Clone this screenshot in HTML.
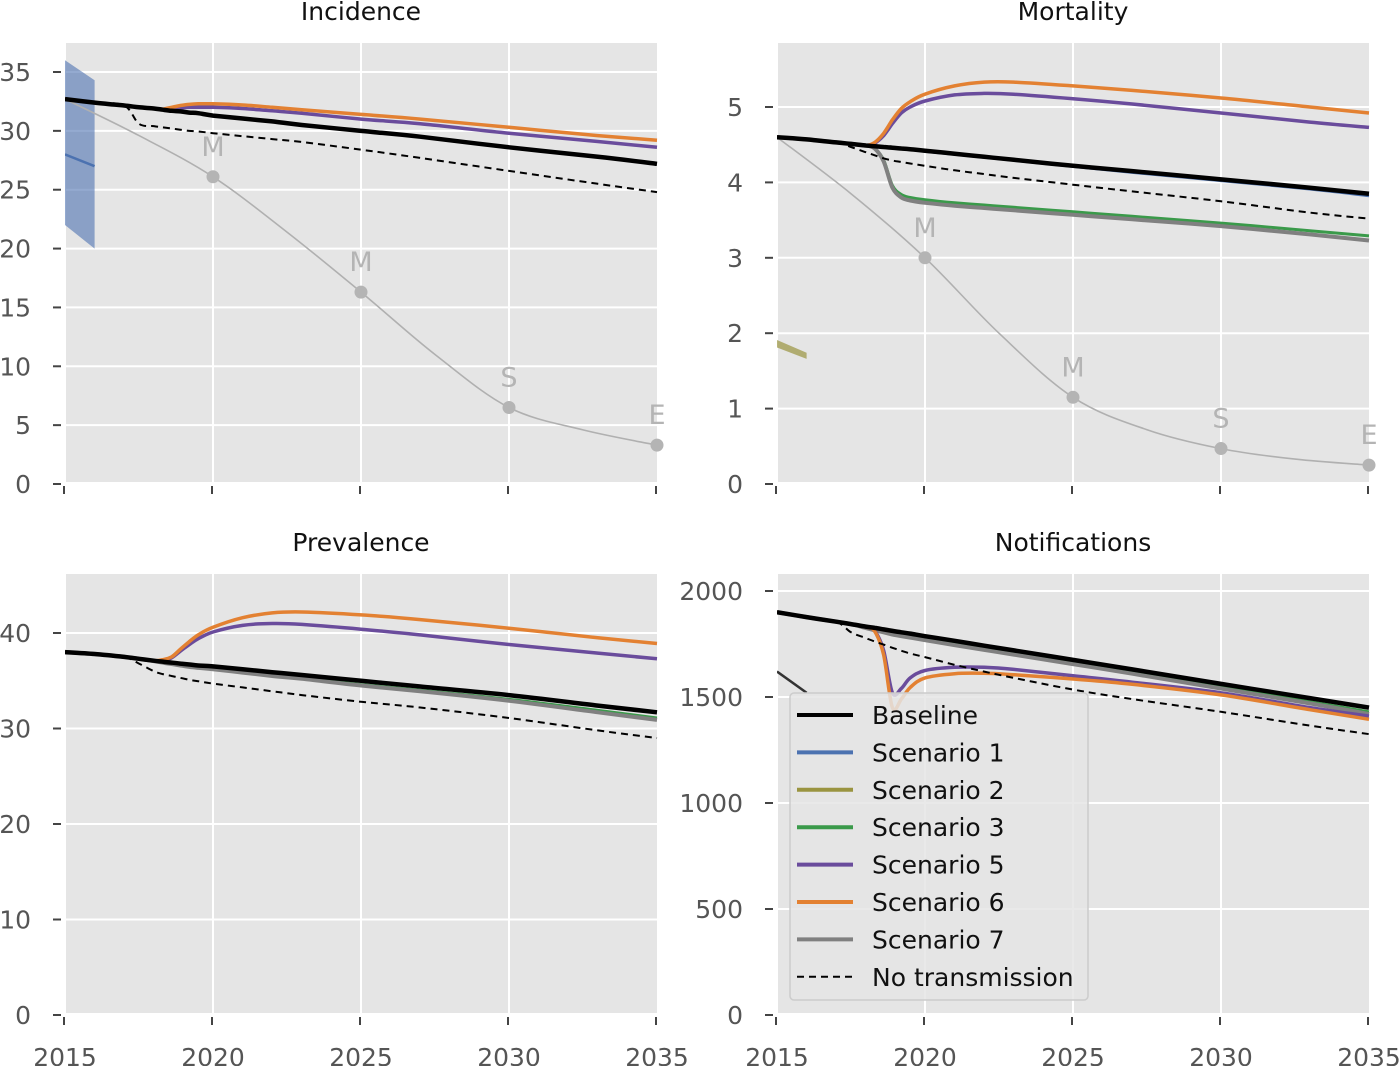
<!DOCTYPE html>
<html><head><meta charset="utf-8">
<style>
html,body{margin:0;padding:0;background:#fff;}
svg{display:block;font-family:"DejaVu Sans","Liberation Sans",sans-serif;}
</style></head>
<body>
<svg id="chart" width="1400" height="1066" viewBox="0 0 1400 1066" xmlns="http://www.w3.org/2000/svg"></svg>
<script>
// ---- shared data ----
const years = [2015,2016,2017,2017.5,2018,2018.3,2018.6,2018.9,2019.2,2019.5,2020,2021,2022,2023,2025,2027,2030,2033,2035];
const targetYears = [2015,2017.5,2020,2022.5,2025,2027.5,2030,2032.5,2035];
const markerYears = [2020,2025,2030,2035];
const markerLabels = ["M","M","S","E"];
const xTicks = [2015,2020,2025,2030,2035];

// Incidence
const incBaseline = [32.7,32.4,32.15,32.0,31.9,31.8,31.7,31.65,31.55,31.5,31.3,31.05,30.8,30.5,30.0,29.5,28.6,27.8,27.2];
const incS5 = [32.7,32.4,32.15,32.0,31.9,31.8,31.85,31.95,32.0,32.0,32.0,31.9,31.7,31.5,31.0,30.6,29.8,29.1,28.6];
const incS6 = [32.7,32.4,32.15,32.0,31.9,31.85,32.0,32.15,32.25,32.3,32.3,32.2,32.0,31.8,31.4,31.0,30.3,29.6,29.2];
const incNoTrans = [32.7,32.4,32.15,30.6,30.4,30.3,30.2,30.1,30.0,29.95,29.8,29.55,29.3,29.05,28.4,27.7,26.6,25.5,24.8];
const incTarget = [32.7,29.6,26.1,21.4,16.3,11.0,6.5,4.6,3.3];
const incMarkers = [26.1,16.3,6.5,3.3];
const incYTicks = [0,5,10,15,20,25,30,35];

// Mortality
const morBaseline = [4.6,4.57,4.53,4.51,4.49,4.48,4.47,4.46,4.45,4.44,4.42,4.38,4.34,4.3,4.22,4.15,4.04,3.93,3.85];
const morS1 = [4.6,4.57,4.53,4.51,4.49,4.48,4.47,4.46,4.45,4.44,4.41,4.37,4.33,4.29,4.21,4.13,4.02,3.91,3.82];
const morS3 = [4.6,4.57,4.53,4.51,4.49,4.45,4.3,3.96,3.84,3.8,3.77,3.73,3.7,3.67,3.61,3.55,3.46,3.36,3.29];
const morS5 = [4.6,4.57,4.53,4.51,4.49,4.52,4.62,4.78,4.92,5.0,5.08,5.16,5.18,5.17,5.11,5.04,4.92,4.8,4.73];
const morS6 = [4.6,4.57,4.53,4.51,4.49,4.53,4.65,4.83,4.98,5.07,5.17,5.28,5.33,5.33,5.28,5.22,5.12,5.0,4.92];
const morS7 = [4.6,4.57,4.53,4.51,4.49,4.45,4.28,3.93,3.8,3.76,3.73,3.69,3.66,3.63,3.57,3.51,3.42,3.31,3.23];
const morNoTrans = [4.6,4.57,4.53,4.47,4.4,4.36,4.32,4.29,4.27,4.25,4.22,4.16,4.11,4.06,3.97,3.88,3.75,3.6,3.52];
const morTarget = [4.6,3.85,3.0,2.0,1.15,0.72,0.47,0.33,0.25];
const morMarkers = [3.0,1.15,0.47,0.25];
const morYTicks = [0,1,2,3,4,5];

// Prevalence
const prvBaseline = [38.0,37.8,37.5,37.3,37.1,37.0,36.9,36.8,36.7,36.6,36.5,36.2,35.9,35.6,35.0,34.4,33.5,32.4,31.7];
const prvS3 = [38.0,37.8,37.5,37.3,37.07,36.93,36.8,36.65,36.5,36.4,36.27,35.93,35.6,35.3,34.6,34.0,33.05,31.9,31.1];
const prvS5 = [38.0,37.8,37.5,37.3,37.1,37.1,37.4,38.1,38.8,39.4,40.1,40.8,41.0,40.9,40.4,39.8,38.8,37.9,37.3];
const prvS6 = [38.0,37.8,37.5,37.3,37.1,37.2,37.5,38.3,39.1,39.8,40.6,41.6,42.1,42.2,41.9,41.4,40.5,39.5,38.9];
const prvS7 = [38.0,37.8,37.5,37.3,37.05,36.9,36.75,36.6,36.45,36.35,36.2,35.85,35.5,35.2,34.5,33.9,32.9,31.7,30.9];
const prvNoTrans = [38.0,37.8,37.5,36.8,36.0,35.7,35.5,35.3,35.1,34.95,34.7,34.3,33.9,33.5,32.8,32.2,31.1,29.8,29.0];
const prvYTicks = [0,10,20,30,40];

// Notifications
const notBaseline = [1900,1877,1855,1844,1832,1826,1819,1812,1805,1799,1787,1765,1742,1720,1675,1630,1562,1495,1450];
const notS3 = [1900,1877,1855,1844,1830,1820,1810,1800,1792,1785,1773,1750,1727,1705,1660,1615,1547,1478,1430];
const notS5 = [1900,1877,1855,1844,1830,1812,1720,1520,1540,1590,1625,1640,1640,1630,1600,1570,1520,1450,1410];
const notS6 = [1900,1877,1855,1844,1830,1810,1700,1450,1490,1545,1590,1610,1612,1605,1585,1560,1510,1440,1395];
const notS7 = [1900,1877,1855,1844,1825,1815,1805,1795,1787,1780,1768,1745,1722,1700,1655,1610,1540,1470,1420];
const notNoTrans = [1900,1877,1855,1805,1778,1762,1747,1732,1718,1705,1688,1652,1620,1590,1535,1490,1430,1365,1325];
const notYTicks = [0,500,1000,1500,2000];

const FS = 25;
const C = {base:"#000000", s1:"#4c72b0", s2:"#9a9440", s3:"#3a9a4a", s5:"#6a4c9c", s6:"#e38132", s7:"#808080"};
const svg = document.getElementById('chart');
const NS = "http://www.w3.org/2000/svg";
function el(tag, attrs, parent){
  const e = document.createElementNS(NS, tag);
  for (const k in attrs) e.setAttribute(k, attrs[k]);
  (parent||svg).appendChild(e);
  return e;
}
function smoothPath(pts){
  let d = "M"+pts[0][0].toFixed(1)+","+pts[0][1].toFixed(1);
  for (let i=0;i<pts.length-1;i++){
    const p0=pts[Math.max(0,i-1)], p1=pts[i], p2=pts[i+1], p3=pts[Math.min(pts.length-1,i+2)];
    const c1=[p1[0]+(p2[0]-p0[0])/6, p1[1]+(p2[1]-p0[1])/6];
    const c2=[p2[0]-(p3[0]-p1[0])/6, p2[1]-(p3[1]-p1[1])/6];
    d += " C"+c1[0].toFixed(1)+","+c1[1].toFixed(1)+" "+c2[0].toFixed(1)+","+c2[1].toFixed(1)+" "+p2[0].toFixed(1)+","+p2[1].toFixed(1);
  }
  return d;
}

function panel(cfg){
  const g = el('g', {});
  
  
  const xs = v => cfg.x0 + (v-2015)/20*(cfg.x1-cfg.x0);
  const ys = v => cfg.y0 - v*cfg.k;
  const bg = el('rect', {x:cfg.x0+1, y:cfg.top, width:cfg.x1-cfg.x0-1, height:cfg.y0-2-cfg.top, fill:"#e5e5e5"}, g);
  
  
  cfg.yTicks.forEach(t=>{
    const y = ys(t);
    if (y > cfg.top+2 && y < cfg.y0-3) {
      const gl = el('line', {x1:cfg.x0+1, x2:cfg.x1, y1:y, y2:y, stroke:"#fff", "stroke-width":2}, g);
      
      
    }
    const tk = el('line', {x1:cfg.x0-12, x2:cfg.x0-4, y1:y, y2:y, stroke:"#444", "stroke-width":2}, g);
    
    
    const tl = el('text', {x:cfg.x0-34, y:y+9, "text-anchor":"end", "font-size":FS, fill:"#555"}, g);
    tl.textContent = t;
    
    
  });
  xTicks.forEach(t=>{
    const x = xs(t);
    if (t>2015 && t<2035) {
      const gl = el('line', {x1:x, x2:x, y1:cfg.top, y2:cfg.y0-2, stroke:"#fff", "stroke-width":2}, g);
      
      
    }
    const tk = el('line', {x1:x-1, x2:x-1, y1:cfg.y0+2, y2:cfg.y0+10, stroke:"#444", "stroke-width":2}, g);
    
    
    if (cfg.xLabels) {
      const tl = el('text', {x:x, y:1066, "text-anchor":"middle", "font-size":FS, fill:"#555"}, g);
      tl.textContent = t;
      
      
    }
  });
  const title = el('text', {x:(cfg.x0+cfg.x1)/2, y:cfg.top-23, "text-anchor":"middle", "font-size":FS, fill:"#111"}, g);
  title.textContent = cfg.title;
  
  

  const clip = el('clipPath', {id:'clip-'+cfg.name}, g);
  el('rect', {x:cfg.x0, y:cfg.top, width:cfg.x1-cfg.x0+2, height:cfg.y0-cfg.top}, clip);
  const lg = el('g', {"clip-path":"url(#clip-"+cfg.name+")"}, g);
  
  

  (cfg.extra||[]).forEach(f=>f(lg, xs, ys));

  if (cfg.target) {
    const tpts = targetYears.map((yr,i)=>[xs(yr), ys(cfg.target[i])]);
    const tp = el('path', {d:smoothPath(tpts), fill:"none", stroke:"#b0b0b0", "stroke-width":1.6}, lg);
    
    
  }
  cfg.series.forEach(s=>{
    const pts = years.map((yr,i)=>[xs(yr), ys(s.v[i])]);
    const attrs = {d:smoothPath(pts), fill:"none", stroke:s.c, "stroke-width":s.w, "stroke-linejoin":"round"};
    if (s.dash) attrs["stroke-dasharray"] = "7,5";
    const p = el('path', attrs, lg);
    
    
  });
  if (cfg.markers) {
    markerYears.forEach((yr,i)=>{
      const c = el('circle', {cx:xs(yr), cy:ys(cfg.markers[i]), r:6.5, fill:"#b4b4b4"}, g);
      
      
      const t = el('text', {x:xs(yr), y:ys(cfg.markers[i])-21, "text-anchor":"middle", "font-size":27, fill:"#b4b4b4"}, g);
      t.textContent = markerLabels[i];
      
      
    });
  }
}

panel({name:'incidence', title:'Incidence', x0:65, x1:657, top:43, y0:484, k:(484-72)/35, yTicks:incYTicks, target:incTarget, markers:incMarkers, xLabels:false,
  extra:[(g,xs,ys)=>{
    const b = el('polygon', {points:[[xs(2015),ys(36.0)],[xs(2016),ys(34.3)],[xs(2016),ys(20.0)],[xs(2015),ys(22.0)]].map(p=>p.join(',')).join(' '), fill:"#4c72b0", "fill-opacity":0.6}, g);
    
    
    const l = el('line', {x1:xs(2015), y1:ys(28.0), x2:xs(2016), y2:ys(27.0), stroke:"#4c72b0", "stroke-width":2.5}, g);
    
    
  }],
  series:[
    {n:'scenario-5-line', v:incS5, c:C.s5, w:3.5},
    {n:'scenario-6-line', v:incS6, c:C.s6, w:3.5},
    {n:'baseline-line', v:incBaseline, c:C.base, w:4.5},
    {n:'no-transmission-line', v:incNoTrans, c:"#000", w:2, dash:true}
  ]});

panel({name:'mortality', title:'Mortality', x0:777, x1:1369, top:43, y0:484, k:(484-107)/5, yTicks:morYTicks, target:morTarget, markers:morMarkers, xLabels:false,
  extra:[(g,xs,ys)=>{
    const b = el('polygon', {points:[[xs(2015),ys(1.91)],[xs(2016),ys(1.74)],[xs(2016),ys(1.66)],[xs(2015),ys(1.81)]].map(p=>p.join(',')).join(' '), fill:"#9a9440", "fill-opacity":0.7}, g);
    
    
  }],
  series:[
    {n:'scenario-1-line', v:morS1, c:C.s1, w:2.5},
    {n:'scenario-3-line', v:morS3, c:C.s3, w:3},
    {n:'scenario-7-line', v:morS7, c:C.s7, w:4},
    {n:'scenario-5-line', v:morS5, c:C.s5, w:3.5},
    {n:'scenario-6-line', v:morS6, c:C.s6, w:3.5},
    {n:'baseline-line', v:morBaseline, c:C.base, w:4.5},
    {n:'no-transmission-line', v:morNoTrans, c:"#000", w:2, dash:true}
  ]});

panel({name:'prevalence', title:'Prevalence', x0:65, x1:657, top:574, y0:1015, k:(1015-633)/40, yTicks:prvYTicks, xLabels:true,
  series:[
    {n:'scenario-3-line', v:prvS3, c:C.s3, w:3},
    {n:'scenario-7-line', v:prvS7, c:C.s7, w:4},
    {n:'scenario-5-line', v:prvS5, c:C.s5, w:3.5},
    {n:'scenario-6-line', v:prvS6, c:C.s6, w:3.5},
    {n:'baseline-line', v:prvBaseline, c:C.base, w:4.5},
    {n:'no-transmission-line', v:prvNoTrans, c:"#000", w:2, dash:true}
  ]});

panel({name:'notifications', title:'Notifications', x0:777, x1:1369, top:574, y0:1015, k:(1015-591)/2000, yTicks:notYTicks, xLabels:true,
  extra:[(g,xs,ys)=>{
    const l = el('line', {x1:xs(2015), y1:ys(1620), x2:xs(2016), y2:ys(1520), stroke:"#333", "stroke-width":2.5}, g);
    
    
  }],
  series:[
    {n:'scenario-3-line', v:notS3, c:C.s3, w:3},
    {n:'scenario-7-line', v:notS7, c:C.s7, w:4},
    {n:'scenario-5-line', v:notS5, c:C.s5, w:3.5},
    {n:'scenario-6-line', v:notS6, c:C.s6, w:3.5},
    {n:'baseline-line', v:notBaseline, c:C.base, w:4.5},
    {n:'no-transmission-line', v:notNoTrans, c:"#000", w:2, dash:true}
  ]});

// legend
const legendItems = ["Baseline","Scenario 1","Scenario 2","Scenario 3","Scenario 5","Scenario 6","Scenario 7","No transmission"];
const legendColors = [C.base,C.s1,C.s2,C.s3,C.s5,C.s6,C.s7,"#000"];
const lgd = el('g', {});


el('rect', {x:790, y:693, width:298, height:307, rx:4, fill:"#e5e5e5", "fill-opacity":0.85, stroke:"#cccccc", "stroke-width":1.5}, lgd);
legendItems.forEach((name,i)=>{
  const y = 715 + i*37.4;
  const ent = el('g', {}, lgd);
  
  
  const a = {x1:797, x2:853, y1:y, y2:y, stroke:legendColors[i], "stroke-width": i===7?2:4};
  if (i===7) a["stroke-dasharray"]="7,5";
  el('line', a, ent);
  const t = el('text', {x:872, y:y+9, "font-size":FS, fill:"#111"}, ent);
  t.textContent = name;
});
</script>
</body></html>
